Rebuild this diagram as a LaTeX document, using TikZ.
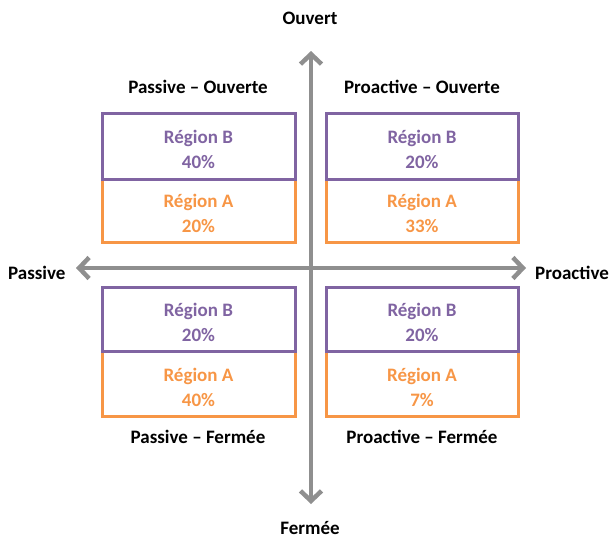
\documentclass[tikz,border=0pt]{standalone}
\usepackage{fontspec}
\setmainfont{Carlito}
\usetikzlibrary{arrows.meta}
\definecolor{axisgray}{HTML}{8F8F8F}
\definecolor{regpurple}{HTML}{8064A2}
\definecolor{regorange}{HTML}{F79646}
\tikzset{
  axis/.style={draw=axisgray, line width=4.5pt, -{Straight Barb[length=10pt,width=21pt]}},
  bpurple/.style={draw=regpurple, line width=3pt},
  borange/.style={draw=regorange, line width=3pt},
  txt/.style={font=\fontsize{19}{25}\selectfont\bfseries, align=center, inner sep=0pt},
  tpurple/.style={txt, text=regpurple},
  torange/.style={txt, text=regorange},
}
\begin{document}
\begin{tikzpicture}[x=1pt,y=-1pt]
\useasboundingbox (0,0) rectangle (609,542);
% axes
\coordinate (c) at (311,268);
\coordinate (ltip) at (76,268);
\coordinate (rtip) at (526,268);
\coordinate (ttip) at (311,51);
\coordinate (btip) at (311,504);
\draw[axis] (c) -- (ltip);
\draw[axis] (c) -- (rtip);
\draw[axis] (c) -- (ttip);
\draw[axis] (c) -- (btip);
% axis labels
\node[txt, text=black] (ouvert) at (310,18) {Ouvert};
\node[txt, text=black] (fermee) at (310,528) {Fermée};
\node[txt, text=black, anchor=west] (passive) at (8,273) {Passive};
\node[txt, text=black, anchor=west] (proactive) at (535,273) {Proactive};
% quadrant titles
\node[txt, text=black] (tpo) at (198,87) {Passive – Ouverte};
\node[txt, text=black] (tpro) at (422,87) {Proactive – Ouverte};
\node[txt, text=black] (tpf) at (198,437) {Passive – Fermée};
\node[txt, text=black] (tprf) at (422,437) {Proactive – Fermée};
% boxes top-left
\draw[borange] (102,179) rectangle (295,242);
\draw[bpurple] (102,113) rectangle (295,179);
\node[tpurple] (b1) at (198.5,149) {Région B\\40\%};
\node[torange] (a1) at (198.5,213) {Région A\\20\%};
% boxes top-right
\draw[borange] (326,179) rectangle (518,242);
\draw[bpurple] (326,113) rectangle (518,179);
\node[tpurple] (b2) at (422,149) {Région B\\20\%};
\node[torange] (a2) at (422,213) {Région A\\33\%};
% boxes bottom-left
\draw[borange] (102,351) rectangle (295,416);
\draw[bpurple] (102,287) rectangle (295,351);
\node[tpurple] (b3) at (198.5,322) {Région B\\20\%};
\node[torange] (a3) at (198.5,387) {Région A\\40\%};
% boxes bottom-right
\draw[borange] (326,351) rectangle (518,416);
\draw[bpurple] (326,287) rectangle (518,351);
\node[tpurple] (b4) at (422,322) {Région B\\20\%};
\node[torange] (a4) at (422,387) {Région A\\7\%};
\end{tikzpicture}
\end{document}
